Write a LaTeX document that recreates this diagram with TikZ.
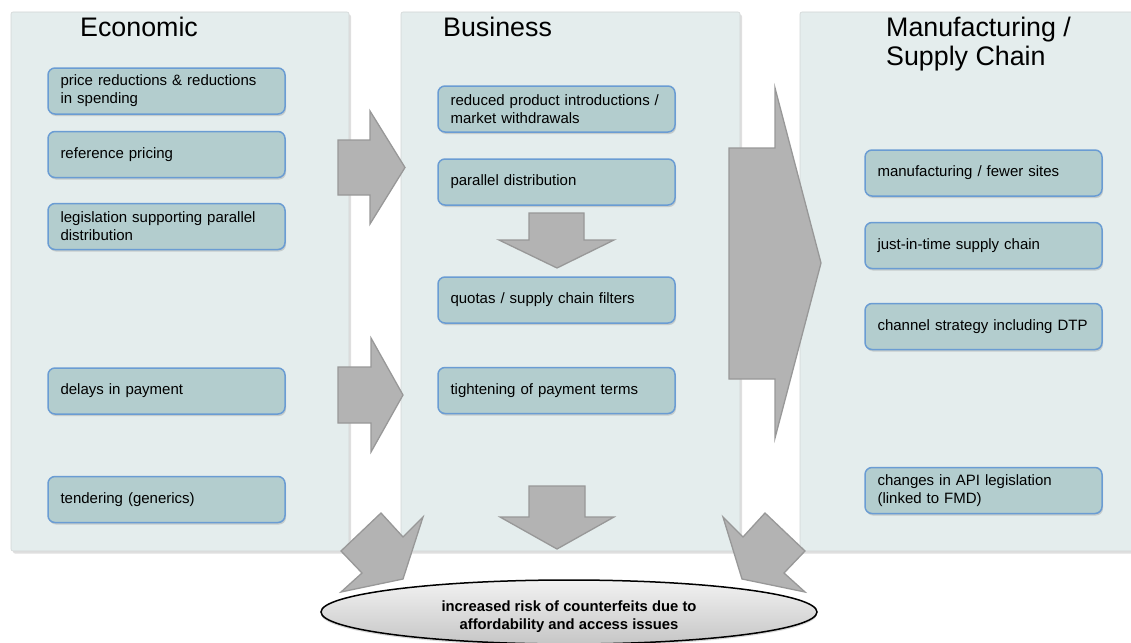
\documentclass[tikz,border=0pt]{standalone}
\usepackage{fontspec}
\setmainfont{Liberation Sans}
\usetikzlibrary{shadows,shapes.geometric}
\definecolor{panelfill}{HTML}{E4EDED}
\definecolor{panelline}{HTML}{D2D6D6}
\definecolor{boxfill}{HTML}{B3CDCE}
\definecolor{boxline}{HTML}{6A9CD3}
\definecolor{arrowfill}{HTML}{B3B3B3}
\definecolor{arrowline}{HTML}{989898}
\definecolor{elltop}{HTML}{F2F2F2}
\definecolor{ellbot}{HTML}{C6C6C6}
\begin{document}
\begin{tikzpicture}[x=1pt,y=-1pt,
  panel/.style={fill=panelfill, draw=panelline, line width=0.6pt, rounded corners=2pt,
    drop shadow={opacity=0.25, shadow xshift=2pt, shadow yshift=-2.5pt},
    minimum height=539pt, inner sep=0pt},
  title/.style={anchor=base west, inner sep=0pt, font=\fontsize{26.8}{29}\selectfont},
  box/.style={draw=boxline, fill=boxfill, line width=1.5pt, rounded corners=7pt,
    minimum height=46pt, text width=212pt, inner xsep=12.5pt, inner ysep=0pt,
    align=left, font=\fontsize{15}{18}\selectfont,
    drop shadow={opacity=0.3, shadow xshift=1pt, shadow yshift=-2pt}},
  blockarrow/.style={fill=arrowfill, draw=arrowline, line width=1.3pt, line join=miter},
  ell/.style={ellipse, draw=black, line width=1.5pt, top color=elltop, bottom color=ellbot,
    minimum width=496pt, minimum height=64pt, inner sep=0pt,
    drop shadow={opacity=0.3, shadow xshift=0pt, shadow yshift=-2pt}},
  elltext/.style={align=center, inner sep=0pt, font=\fontsize{14.8}{18}\bfseries\selectfont}
]
\useasboundingbox (0,0) rectangle (1131,642);

% panels
\node[panel, minimum width=338pt] (pEcon) at (180,281.5) {};
\node[panel, minimum width=339pt] (pBus) at (570.5,281.5) {};
\node[panel, minimum width=340pt] (pMan) at (970,281.5) {};

% titles
\node[title] (tEcon) at (80,37) {Economic};
\node[title] (tBus) at (443,37) {Business};
\node[title] (tMan1) at (886,37) {Manufacturing /};
\node[title] (tMan2) at (886,65) {Supply Chain};

% economic boxes
\node[box] (e1) at (166.5,91) {price reductions \& reductions\\in spending};
\node[box] (e2) at (166.5,154.5) {reference pricing};
\node[box] (e3) at (166.5,226.5) {legislation supporting parallel\\distribution};
\node[box] (e4) at (166.5,391) {delays in payment};
\node[box] (e5) at (166.5,499.5) {tendering (generics)};

% business boxes
\node[box] (b1) at (556.5,109) {reduced product introductions /\\market withdrawals};
\node[box] (b2) at (556.5,182) {parallel distribution};
\node[box] (b3) at (556.5,300) {quotas / supply chain filters};
\node[box] (b4) at (556.5,390.5) {tightening of payment terms};

% manufacturing boxes
\node[box] (m1) at (983.5,173) {manufacturing / fewer sites};
\node[box] (m2) at (983.5,245.5) {just-in-time supply chain};
\node[box] (m3) at (983.5,326.5) {channel strategy including DTP};
\node[box] (m4) at (983.5,490.5) {changes in API legislation\\(linked to FMD)};

% block arrows
\draw[blockarrow] (338,140) -- (370,140) -- (370,111) -- (405,167.5) -- (370,224) -- (370,195) -- (338,195) -- cycle;
\draw[blockarrow] (338,367) -- (371,367) -- (371,338) -- (403,395) -- (371,452) -- (371,423) -- (338,423) -- cycle;
\draw[blockarrow] (529,213) -- (584,213) -- (584,240) -- (614,240) -- (557,268) -- (499,240) -- (529,240) -- cycle;
\draw[blockarrow] (529,486) -- (585,486) -- (585,517) -- (614,517) -- (557,549) -- (500,517) -- (529,517) -- cycle;
\draw[blockarrow] (729,148) -- (775,148) -- (775,88) -- (821,263) -- (775,438) -- (775,379) -- (729,379) -- cycle;
\draw[blockarrow] (381,513) -- (403,537) -- (423,517) -- (403,579) -- (341,592) -- (362,573) -- (341,551) -- cycle;
\draw[blockarrow] (765,513) -- (743,537) -- (723,517) -- (742,579) -- (805,592) -- (784,573) -- (805,551) -- cycle;

% outcome ellipse
\node[ell] (risk) at (569,612) {};
\node[elltext] (riskText) at ([yshift=-5pt]risk.center) {increased risk of counterfeits due to\\affordability and access issues};
\end{tikzpicture}
\end{document}
